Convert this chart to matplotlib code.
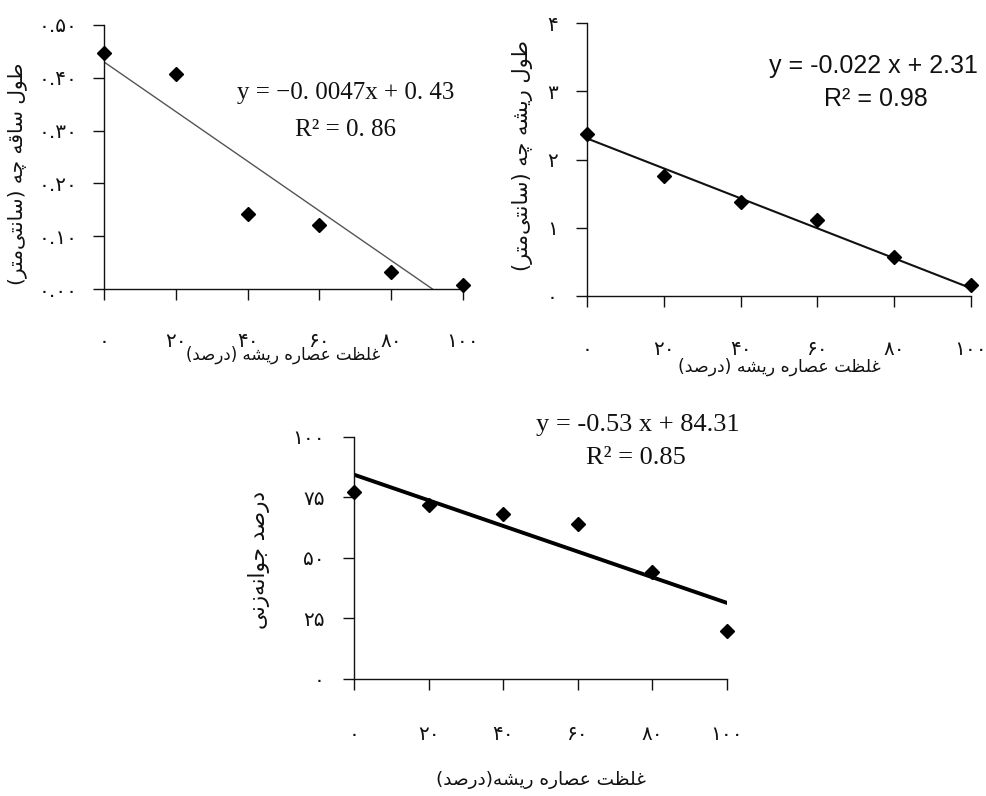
import matplotlib
matplotlib.use("Agg")
import matplotlib.pyplot as plt
import numpy as np

# concentrations of root extract (%)
conc = [0, 20, 40, 60, 80, 100]

# shoot length (cm)
shoot_len = [0.447, 0.408, 0.143, 0.121, 0.032, 0.008]
shoot_fit = (-0.0047, 0.43)

# root length (cm)
root_len = [2.38, 1.76, 1.37, 1.11, 0.57, 0.15]
root_fit = (-0.022, 2.31)

# germination (%)
germ = [77.3, 71.8, 67.9, 63.9, 44.2, 19.8]
germ_fit = (-0.53, 84.31)

xlabel_1 = "غلظت عصاره ریشه (درصد)"
xlabel_3 = "غلظت عصاره ریشه(درصد)"
ylabel_1 = "طول ساقه چه (سانتی\u200cمتر)"
ylabel_2 = "طول ریشه چه (سانتی\u200cمتر)"
ylabel_3 = "درصد جوانه\u200cزنی"

# matplotlib has no arabic shaping, so pick presentation forms by hand
FORMS = {
    'ا': (0xFE8D, 0xFE8E),
    'ت': (0xFE95, 0xFE96, 0xFE97, 0xFE98),
    'ج': (0xFE9D, 0xFE9E, 0xFE9F, 0xFEA0),
    'چ': (0xFB7A, 0xFB7B, 0xFB7C, 0xFB7D),
    'د': (0xFEA9, 0xFEAA),
    'ر': (0xFEAD, 0xFEAE),
    'ز': (0xFEAF, 0xFEB0),
    'س': (0xFEB1, 0xFEB2, 0xFEB3, 0xFEB4),
    'ش': (0xFEB5, 0xFEB6, 0xFEB7, 0xFEB8),
    'ص': (0xFEB9, 0xFEBA, 0xFEBB, 0xFEBC),
    'ط': (0xFEC1, 0xFEC2, 0xFEC3, 0xFEC4),
    'ظ': (0xFEC5, 0xFEC6, 0xFEC7, 0xFEC8),
    'ع': (0xFEC9, 0xFECA, 0xFECB, 0xFECC),
    'غ': (0xFECD, 0xFECE, 0xFECF, 0xFED0),
    'ق': (0xFED5, 0xFED6, 0xFED7, 0xFED8),
    'ل': (0xFEDD, 0xFEDE, 0xFEDF, 0xFEE0),
    'م': (0xFEE1, 0xFEE2, 0xFEE3, 0xFEE4),
    'ن': (0xFEE5, 0xFEE6, 0xFEE7, 0xFEE8),
    'ه': (0xFEE9, 0xFEEA, 0xFEEB, 0xFEEC),
    'و': (0xFEED, 0xFEEE),
    'ی': (0xFBFC, 0xFBFD, 0xFBFE, 0xFBFF),
}


def rtl(s):
    out = []
    for i, c in enumerate(s):
        f = FORMS.get(c)
        if f is None:
            out.append(c)
            continue
        prev = s[i - 1] if i > 0 else ''
        nxt = s[i + 1] if i + 1 < len(s) else ''
        jp = prev in FORMS and len(FORMS[prev]) == 4
        jn = len(f) == 4 and nxt in FORMS
        k = 3 if (jp and jn) else 1 if jp else 2 if jn else 0
        out.append(chr(f[k]))
    mirror = {'(': ')', ')': '('}
    return ''.join(mirror.get(c, c) for c in reversed(out) if c != '\u200c')


def fa(s):
    return str(s).translate(str.maketrans('0123456789', '۰۱۲۳۴۵۶۷۸۹'))


plt.rcParams['font.family'] = ['DejaVu Sans']
ink = '#111111'

fig = plt.figure(figsize=(9.86, 7.96), dpi=100)
ax1 = fig.add_axes([0.1055, 0.6369, 0.3641, 0.3317])
ax2 = fig.add_axes([0.5953, 0.6285, 0.3895, 0.3422])
ax3 = fig.add_axes([0.3590, 0.1474, 0.3783, 0.3040])


def style(ax, xpad, ypad):
    for s in ['top', 'right']:
        ax.spines[s].set_visible(False)
    for s in ['left', 'bottom']:
        ax.spines[s].set_linewidth(1.0)
        ax.spines[s].set_color(ink)
    ax.tick_params(axis='x', direction='out', length=8, width=1, pad=xpad,
                   labelsize=14.5, colors=ink)
    ax.tick_params(axis='y', direction='out', length=8, width=1, pad=ypad,
                   labelsize=14.5, colors=ink)
    ax.set_xlim(0, 100)
    ax.set_xticks(conc)
    ax.set_xticklabels([fa(c) for c in conc])


xs = np.array([0, 100])

# shoot length
ax1.plot(conc, shoot_len, 'D', color='black', ms=7.5, clip_on=False, zorder=3)
xl = np.linspace(0, -shoot_fit[1] / shoot_fit[0], 2)
ax1.plot(xl, shoot_fit[0] * xl + shoot_fit[1], color='#555555', lw=1.0)
style(ax1, 23, 11)
ax1.set_ylim(0, 0.5)
yt1 = [0, 0.1, 0.2, 0.3, 0.4, 0.5]
ax1.set_yticks(yt1)
ax1.set_yticklabels([fa(f"{v:.2f}") for v in yt1])
ax1.set_xlabel(rtl(xlabel_1), fontsize=12, color=ink)
ax1.xaxis.set_label_coords(0.5, -0.215)
ax1.set_ylabel(rtl(ylabel_1), fontsize=14.5, color=ink)
ax1.yaxis.set_label_coords(-0.215, 0.436)
ax1.text(0.674, 0.742, "y = \u22120. 0047x + 0. 43", transform=ax1.transAxes,
         ha='center', va='center', fontsize=18, family='Liberation Serif', color=ink)
ax1.text(0.674, 0.602, "R\u00b2 = 0. 86", transform=ax1.transAxes,
         ha='center', va='center', fontsize=18, family='Liberation Serif', color=ink)

# root length
ax2.plot(conc, root_len, 'D', color='black', ms=7.5, clip_on=False, zorder=3)
ax2.plot(xs, root_fit[0] * xs + root_fit[1], color=ink, lw=1.5)
style(ax2, 24, 13)
ax2.set_ylim(0, 4)
yt2 = [0, 1, 2, 3, 4]
ax2.set_yticks(yt2)
ax2.set_yticklabels([fa(v) for v in yt2])
ax2.set_xlabel(rtl(xlabel_1), fontsize=12.5, color=ink)
ax2.xaxis.set_label_coords(0.5, -0.228)
ax2.set_ylabel(rtl(ylabel_2), fontsize=15, color=ink)
ax2.yaxis.set_label_coords(-0.14, 0.515)
ax2.text(0.746, 0.842, "y = -0.022 x + 2.31", transform=ax2.transAxes,
         ha='center', va='center', fontsize=18, family='Liberation Sans', color=ink)
ax2.text(0.751, 0.724, "R\u00b2 = 0.98", transform=ax2.transAxes,
         ha='center', va='center', fontsize=18, family='Liberation Sans', color=ink)

# germination
ax3.plot(conc, germ, 'D', color='black', ms=7, clip_on=False, zorder=3)
ax3.plot(xs, germ_fit[0] * xs + germ_fit[1], color='black', lw=2.8)
style(ax3, 25, 13)
ax3.set_ylim(0, 100)
yt3 = [0, 25, 50, 75, 100]
ax3.set_yticks(yt3)
ax3.set_yticklabels([fa(v) for v in yt3])
ax3.set_xlabel(rtl(xlabel_3), fontsize=13.3, color=ink)
ax3.xaxis.set_label_coords(0.5, -0.38)
ax3.set_ylabel(rtl(ylabel_3), fontsize=15.5, color=ink)
ax3.yaxis.set_label_coords(-0.225, 0.49)
ax3.text(0.760, 1.05, "y = -0.53 x + 84.31", transform=ax3.transAxes,
         ha='center', va='center', fontsize=19, family='Liberation Serif', color=ink)
ax3.text(0.757, 0.913, "R\u00b2 = 0.85", transform=ax3.transAxes,
         ha='center', va='center', fontsize=19, family='Liberation Serif', color=ink)

fig.savefig('out.png', dpi=100)
